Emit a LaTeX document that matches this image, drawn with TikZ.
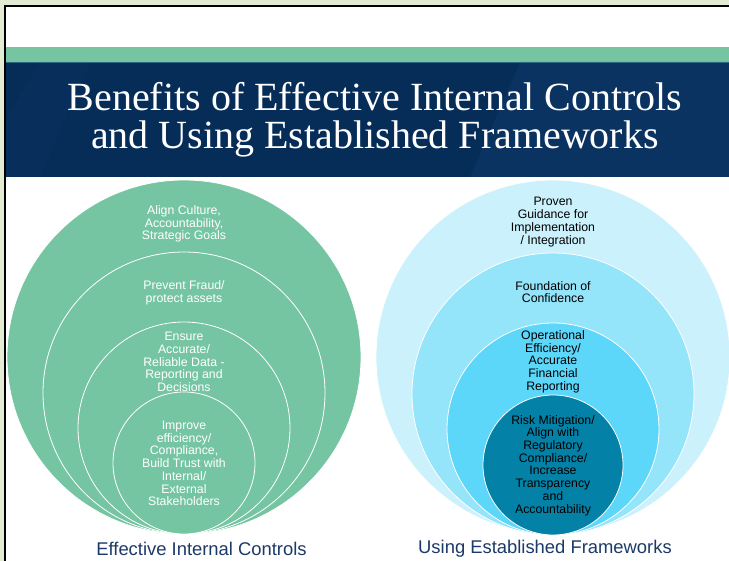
\documentclass[tikz,border=0pt]{standalone}
\usepackage{fontspec}
\newfontfamily\headfont{Liberation Serif}
\newfontfamily\bodyfont{Liberation Sans}
\definecolor{framegreen}{RGB}{227,235,210}
\definecolor{bargreen}{RGB}{117,197,162}
\definecolor{navy}{RGB}{6,44,88}
\definecolor{navylight}{RGB}{16,62,112}
\definecolor{ictgreen}{RGB}{117,197,162}
\definecolor{fwone}{RGB}{203,241,252}
\definecolor{fwtwo}{RGB}{148,228,250}
\definecolor{fwthree}{RGB}{92,214,249}
\definecolor{fwfour}{RGB}{4,129,166}
\definecolor{captionblue}{RGB}{28,58,104}

\begin{document}
\begin{tikzpicture}[x=1pt,y=-1pt]
\tikzstyle{every node}+=[inner sep=0pt]
\tikzstyle{ring}=[draw=white, line width=0.8pt]
\tikzstyle{ringtext}=[align=center, font=\bodyfont\fontsize{12.3}{12.7}\selectfont]
\tikzstyle{captiontext}=[text=captionblue, font=\bodyfont\fontsize{18.4}{20}\selectfont]
\tikzstyle{titletext}=[text=white, anchor=base, font=\headfont\fontsize{40}{44}\selectfont]
\useasboundingbox (0,0) rectangle (729,561);
% slide and frame
\fill [framegreen] (0,0) rectangle (729,561);
\fill [white] (5,6) rectangle (729,561);
\draw [black, line width=2pt] (5,561) -- (5,6) -- (729,6);
\fill [bargreen] (6,47) rectangle (729,62);
\fill [navy] (6,62) rectangle (729,177);
\fill [navylight, opacity=0.4] (520,62) -- (729,62) -- (729,177) -- (470,177) -- cycle;
\fill [navylight, opacity=0.2] (6,120) -- (40,62) -- (90,62) -- (40,177) -- (6,177) -- cycle;
\draw [navylight!70!bargreen, line width=0.8pt] (6,62) -- (729,62);
\node [titletext] (title1) at (375,111) {Benefits of Effective Internal Controls};
\node [titletext] (title2) at (375,149) {and Using Established Frameworks};
% internal controls
\draw [ring, fill=ictgreen] (184,357) circle (177);
\draw [ring, fill=ictgreen] (184,393) circle (141);
\draw [ring, fill=ictgreen] (184,428) circle (106);
\draw [ring, fill=ictgreen] (184,463) circle (71);
\node [ringtext, text=white] (ic1) at (184,224) {Align Culture,\\Accountability,\\Strategic Goals};
\node [ringtext, text=white] (ic2) at (184,293) {Prevent Fraud/\\protect assets};
\node [ringtext, text=white] (ic3) at (184,362) {Ensure\\Accurate/\\Reliable Data -\\Reporting and\\Decisions};
\node [ringtext, text=white] (ic4) at (184,463.5) {Improve\\efficiency/\\Compliance,\\Build Trust with\\Internal/\\External\\Stakeholders};
\node [captiontext] (iccap) at (201.5,549) {Effective Internal Controls};
% frameworks
\draw [ring, fill=fwone] (553,357) circle (177);
\draw [ring, fill=fwtwo] (553,394) circle (141);
\draw [ring, fill=fwthree] (553,429) circle (106);
\draw [ring, fill=fwfour] (553,465) circle (70);
\node [ringtext] (fw1) at (553,222) {Proven\\Guidance for\\Implementation\\/ Integration};
\node [ringtext] (fw2) at (553,292) {Foundation of\\Confidence};
\node [ringtext] (fw3) at (553,361.7) {Operational\\Efficiency/\\Accurate\\Financial\\Reporting};
\node [ringtext] (fw4) at (553,465.4) {Risk Mitigation/\\Align with\\Regulatory\\Compliance/\\Increase\\Transparency\\and\\Accountability};
\node [captiontext] (fwcap) at (545,549) {Using Established Frameworks};
\end{tikzpicture}
\end{document}
